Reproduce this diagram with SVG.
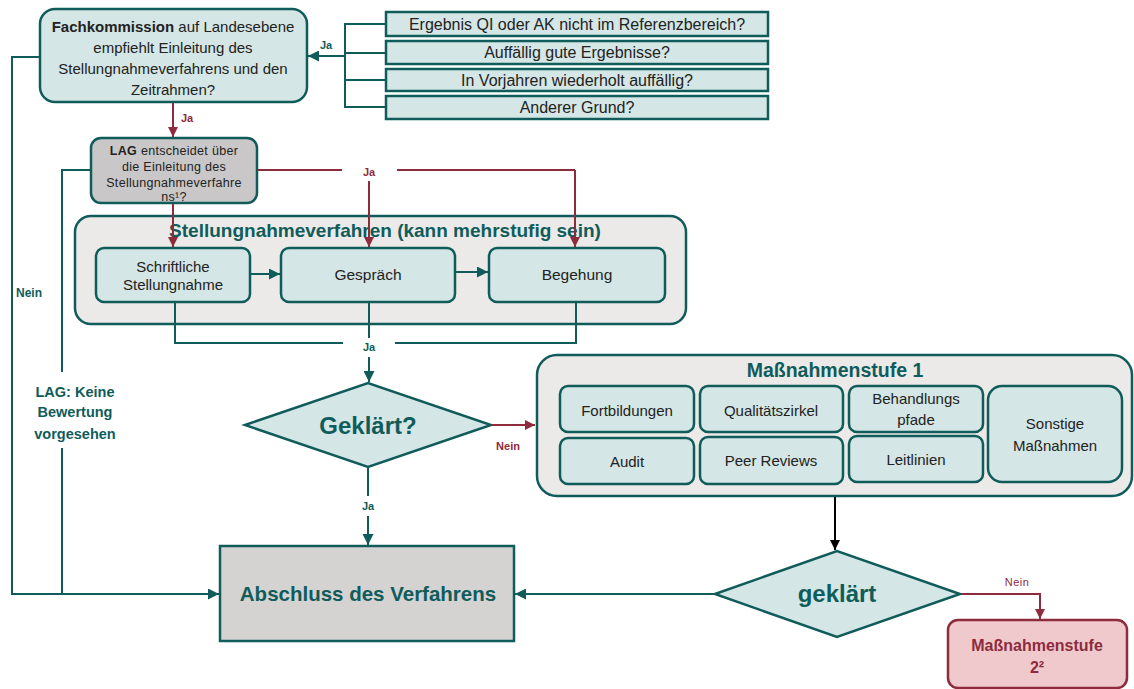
<svg xmlns="http://www.w3.org/2000/svg" width="1134" height="689" viewBox="0 0 1134 689">
<defs>
<marker id="aT" viewBox="0 0 10 10" refX="10" refY="5" markerWidth="11" markerHeight="11" markerUnits="userSpaceOnUse" orient="auto"><path d="M0,0 L10,5 L0,10 z" fill="#0f5c5a"/></marker>
<marker id="aR" viewBox="0 0 10 10" refX="10" refY="5" markerWidth="10" markerHeight="10" markerUnits="userSpaceOnUse" orient="auto"><path d="M0,0 L10,5 L0,10 z" fill="#8e2b3d"/></marker>
<marker id="aK" viewBox="0 0 10 10" refX="10" refY="5" markerWidth="10" markerHeight="10" markerUnits="userSpaceOnUse" orient="auto"><path d="M0,0 L10,5 L0,10 z" fill="#000"/></marker>
</defs>
<style>
.box{fill:#d4e6e5;stroke:#0f5c5a;stroke-width:2.5}
.cont{fill:#ece9e9;stroke:#0f5c5a;stroke-width:2.5}
.t{font-family:"Liberation Sans",Arial,sans-serif;fill:#222;text-anchor:middle}
.b{font-weight:bold}
.teal{fill:#0f5c5a}
.red{fill:#8e2b3d}
.lt{fill:none;stroke:#0f5c5a;stroke-width:2}
.lr{fill:none;stroke:#8e2b3d;stroke-width:2}
.lk{fill:none;stroke:#000;stroke-width:2}
</style>

<g id="fachkommission">
<rect class="box" x="40" y="9" width="267" height="93" rx="15"/>
<text class="t" x="173" y="32" font-size="15"><tspan font-weight="bold">Fachkommission</tspan> auf Landesebene</text>
<text class="t" x="173" y="53" font-size="15">empfiehlt Einleitung des</text>
<text class="t" x="173" y="74" font-size="15">Stellungnahmeverfahrens und den</text>
<text class="t" x="173" y="95" font-size="15">Zeitrahmen?</text>
</g>

<g id="kriterium1"><rect class="box" x="386" y="12" width="382" height="24"/><text class="t" x="577" y="29.5" font-size="16">Ergebnis QI oder AK nicht im Referenzbereich?</text></g>
<g id="kriterium2"><rect class="box" x="386" y="41" width="382" height="23"/><text class="t" x="577" y="58" font-size="16">Auffällig gute Ergebnisse?</text></g>
<g id="kriterium3"><rect class="box" x="386" y="69" width="382" height="22"/><text class="t" x="577" y="85.5" font-size="16">In Vorjahren wiederholt auffällig?</text></g>
<g id="kriterium4"><rect class="box" x="386" y="96" width="382" height="23"/><text class="t" x="577" y="113" font-size="16">Anderer Grund?</text></g>

<g id="lag">
<rect x="91" y="138" width="166" height="65" rx="10" fill="#c9c7c7" stroke="#0f5c5a" stroke-width="2.5"/>
<text class="t" x="174" y="154.5" font-size="12.5" letter-spacing="0.3"><tspan font-weight="bold">LAG</tspan> entscheidet über</text>
<text class="t" x="174" y="170.5" font-size="12.5" letter-spacing="0.3">die Einleitung des</text>
<text class="t" x="174" y="186.5" font-size="12.5" letter-spacing="0.3">Stellungnahmeverfahre</text>
<text class="t" x="174" y="201" font-size="12.5" letter-spacing="0.3">ns¹?</text>
</g>

<g id="stellungnahmeverfahren">
<rect class="cont" x="75" y="216" width="611" height="108" rx="16"/>
<text class="t b teal" x="385" y="236.5" font-size="19">Stellungnahmeverfahren (kann mehrstufig sein)</text>
</g>
<g id="schriftlich">
<rect class="box" x="96" y="248" width="154" height="54" rx="8"/>
<text class="t" x="173" y="272" font-size="15">Schriftliche</text>
<text class="t" x="173" y="290" font-size="15">Stellungnahme</text>
</g>
<g id="gespraech">
<rect class="box" x="281" y="248" width="174" height="54" rx="8"/>
<text class="t" x="368" y="280" font-size="15.5">Gespräch</text>
</g>
<g id="begehung">
<rect class="box" x="489" y="248" width="176" height="54" rx="8"/>
<text class="t" x="577" y="280" font-size="15.5">Begehung</text>
</g>

<g id="geklaert1">
<polygon points="245,425 368,383 491,425 368,467" fill="#d4e6e5" stroke="#0f5c5a" stroke-width="2.5"/>
<text class="t b teal" x="368" y="433.5" font-size="24">Geklärt?</text>
</g>

<g id="abschluss">
<rect x="220" y="546" width="294" height="95" fill="#d5d2d2" stroke="#0f5c5a" stroke-width="2.5"/>
<text class="t b teal" x="368" y="601" font-size="20.5">Abschluss des Verfahrens</text>
</g>

<g id="massnahmenstufe1">
<rect class="cont" x="537" y="355" width="595" height="141" rx="20"/>
<text class="t b teal" x="835" y="376.5" font-size="19.5">Maßnahmenstufe 1</text>
</g>
<g id="fortbildungen"><rect class="box" x="560" y="386" width="134" height="46" rx="8"/><text class="t" x="627" y="415.5" font-size="15">Fortbildungen</text></g>
<g id="qualitaetszirkel"><rect class="box" x="700" y="386" width="143" height="46" rx="8"/><text class="t" x="771" y="415.5" font-size="15">Qualitätszirkel</text></g>
<g id="behandlungspfade"><rect class="box" x="849" y="386" width="134" height="46" rx="8"/><text class="t" x="916" y="403.5" font-size="15">Behandlungs</text><text class="t" x="916" y="424.5" font-size="15">pfade</text></g>
<g id="audit"><rect class="box" x="560" y="438" width="134" height="46" rx="8"/><text class="t" x="627" y="466.5" font-size="15">Audit</text></g>
<g id="peerreviews"><rect class="box" x="700" y="437" width="143" height="47" rx="8"/><text class="t" x="771" y="465.5" font-size="15">Peer Reviews</text></g>
<g id="leitlinien"><rect class="box" x="849" y="436" width="134" height="46" rx="8"/><text class="t" x="916" y="464.5" font-size="15">Leitlinien</text></g>
<g id="sonstige"><rect class="box" x="988" y="386" width="134" height="96" rx="14"/><text class="t" x="1055" y="428.5" font-size="15">Sonstige</text><text class="t" x="1055" y="450.5" font-size="15">Maßnahmen</text></g>

<g id="geklaert2">
<polygon points="715,594 837,551 960,594 837,637" fill="#d4e6e5" stroke="#0f5c5a" stroke-width="2.5"/>
<text class="t b teal" x="837" y="602" font-size="24">geklärt</text>
</g>

<g id="massnahmenstufe2">
<rect x="948" y="620" width="179" height="68" rx="10" fill="#f0c9cd" stroke="#8e2b3d" stroke-width="2.5"/>
<text class="t b red" x="1037" y="651" font-size="16">Maßnahmenstufe</text>
<text class="t b red" x="1037" y="673" font-size="16">2²</text>
</g>

<g id="connectors">
<path class="lt" d="M386,24 H345 V107 H386 M345,53 H386 M345,80 H386"/>
<path class="lt" d="M345,56 H308" stroke-width="3" marker-end="url(#aT)"/>
<path class="lr" d="M173,103 V137" marker-end="url(#aR)"/>
<path class="lr" d="M258,170 H342 M397,170 H575"/>
<path class="lr" d="M575,170 V247" marker-end="url(#aR)"/>
<path class="lr" d="M173,204 V247" marker-end="url(#aR)"/>
<path class="lr" d="M369,181 V247" marker-end="url(#aR)"/>
<path class="lt" d="M251,274 H280" stroke-width="2.5" marker-end="url(#aT)"/>
<path class="lt" d="M456,272 H488" stroke-width="2.5" marker-end="url(#aT)"/>
<path class="lt" d="M175,303 V343 H343 M395,343 H576 V303 M369,303 V338"/>
<path class="lt" d="M369,357 V382" stroke-width="2.5" marker-end="url(#aT)"/>
<path class="lr" d="M492,425 H535" marker-end="url(#aR)"/>
<path class="lt" d="M368,468 V496"/>
<path class="lt" d="M368,516 V545" marker-end="url(#aT)"/>
<path class="lk" d="M835,497 V550" marker-end="url(#aK)"/>
<path class="lt" d="M714,594 H515" marker-end="url(#aT)"/>
<path class="lr" d="M961,594 H1040 V619" marker-end="url(#aR)"/>
<path class="lt" d="M39,57 H12 V594 H62"/>
<path class="lt" d="M90,170 H62 V372 M62,448 V594"/>
<path class="lt" d="M62,594 H219" stroke-width="3.5" marker-end="url(#aT)"/>
<text class="t b teal" x="326" y="49" font-size="11">Ja</text>
<text class="t b red" x="187" y="122" font-size="11">Ja</text>
<text class="t b red" x="369" y="176" font-size="11">Ja</text>
<text class="t b teal" x="369" y="351" font-size="11">Ja</text>
<text class="t b red" x="508" y="450" font-size="11">Nein</text>
<text class="t b teal" x="368" y="510" font-size="11">Ja</text>
<text class="t b teal" x="29" y="297" font-size="12">Nein</text>
<text class="t red" x="1017" y="586" font-size="11" letter-spacing="0.5">Nein</text>
<text class="t b teal" x="75" y="397" font-size="14.5">LAG: Keine</text>
<text class="t b teal" x="75" y="417" font-size="14.5">Bewertung</text>
<text class="t b teal" x="75" y="439" font-size="14.5">vorgesehen</text>
</g>
</svg>
